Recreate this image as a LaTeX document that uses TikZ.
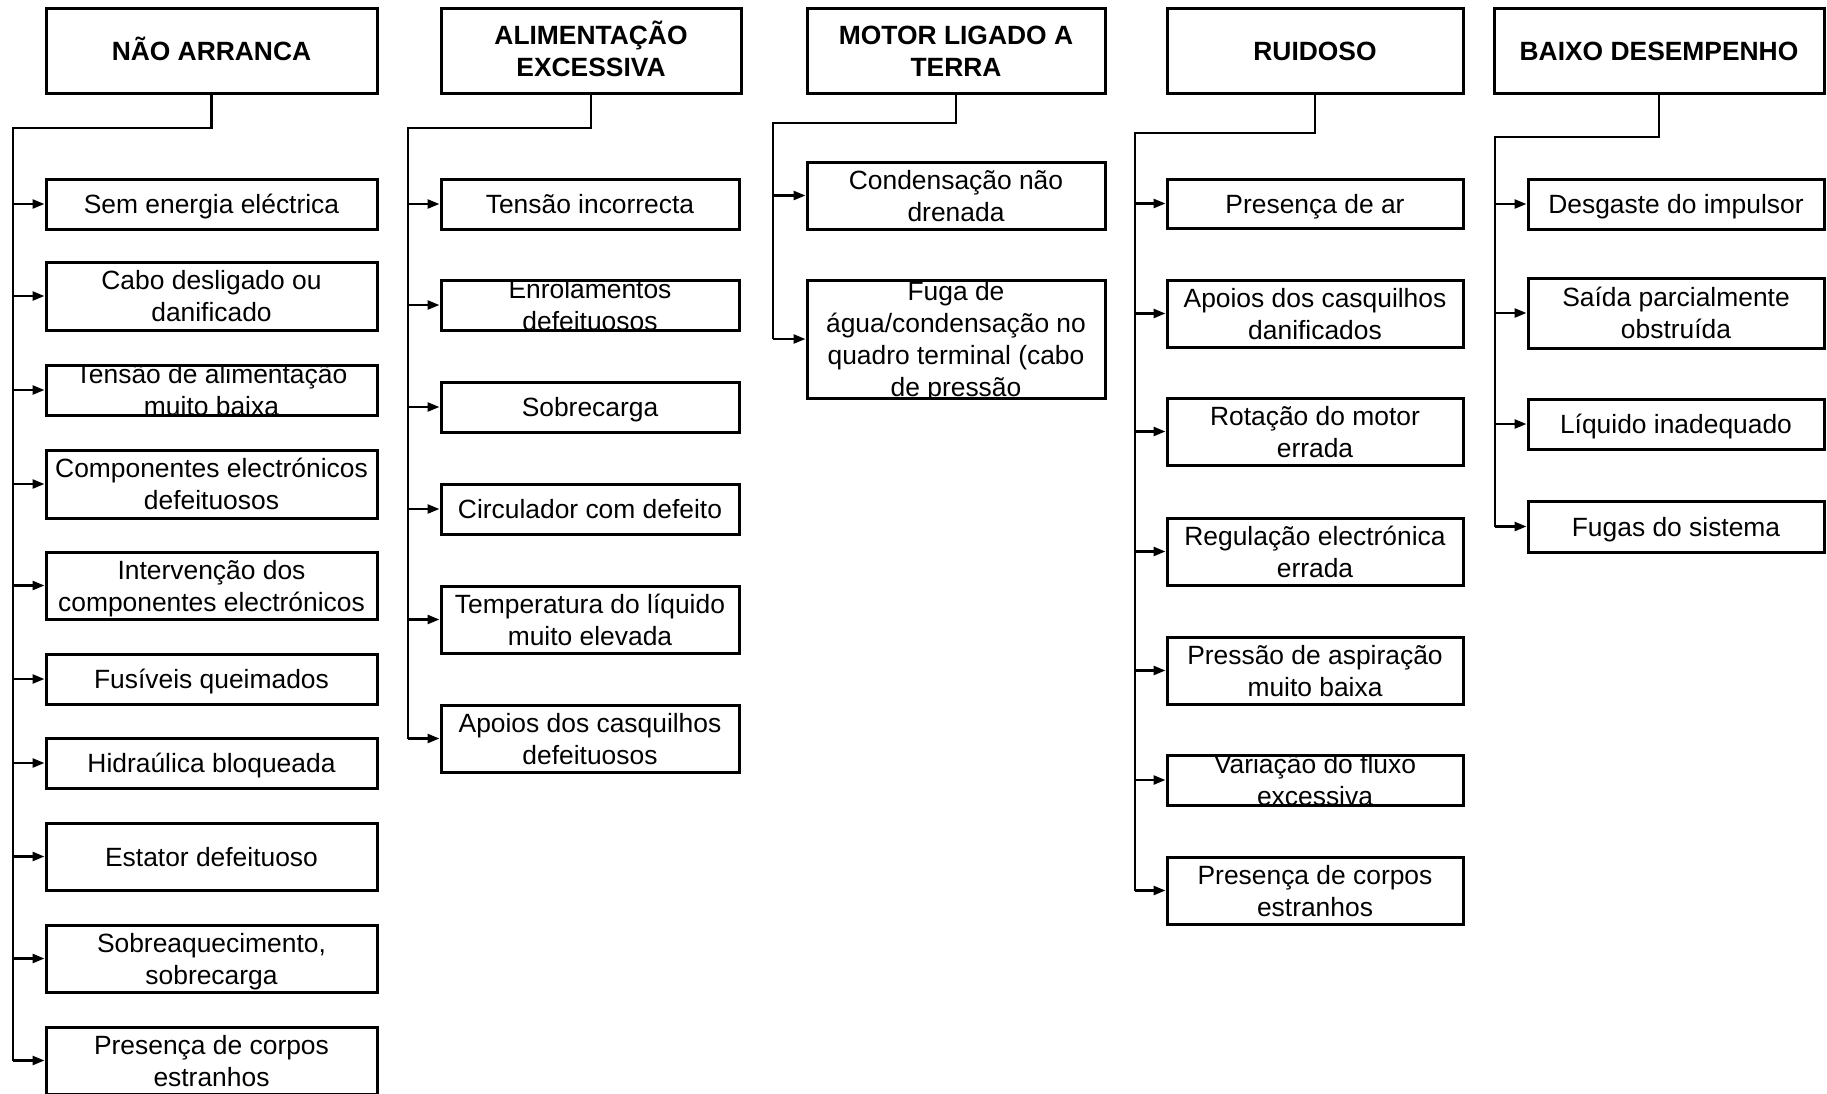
\documentclass[tikz,border=0pt]{standalone}
\usepackage{fontspec}
\setmainfont{Liberation Sans}
\usetikzlibrary{arrows.meta}
\newcommand\fs{\fontsize{26.4}{32}\selectfont}
\newcommand\tstr{\rule{0pt}{25pt}}
\newcommand\bstr{\rule[-6pt]{0pt}{6pt}}
\tikzset{
  box/.style={draw, line width=3pt, inner sep=0pt, align=center, font=\fs},
  headbox/.style={box, font=\fs\bfseries},
  clipbox/.style={path picture={\node[draw=none, align=center, inner sep=0pt, font=\fs] at (path picture bounding box.center) {\tstr#1\bstr};}},
  conn/.style={line width=2.5pt, line join=miter},
  arr/.style={line width=2.5pt, -{Triangle[length=12pt,width=9pt]}}
}
\newcommand\bx[7][]{\node[box,#1,minimum width={#5pt-#3pt},minimum height={#6pt-#4pt}] (#2) at ({(#3+#5)/2},{(#4+#6)/2}) {\tstr#7\bstr};}
\begin{document}
\begin{tikzpicture}[x=1pt,y=-1pt]
\useasboundingbox (0,0) rectangle (1827,1093);
% headers
\bx[headbox]{h1}{46}{8}{377}{93}{NÃO ARRANCA}
\bx[headbox]{h2}{441}{8}{741}{93}{ALIMENTAÇÃO\\EXCESSIVA}
\bx[headbox]{h3}{807}{8}{1105}{93}{MOTOR LIGADO A\\TERRA}
\bx[headbox]{h4}{1167}{8}{1463}{93}{RUIDOSO}
\bx[headbox]{h5}{1494}{8}{1824}{93}{BAIXO DESEMPENHO}
% column 1
\bx{a1}{46}{179}{377}{229}{Sem energia eléctrica}
\bx{a2}{46}{262}{377}{330}{Cabo desligado ou\\danificado}
\bx[clipbox={Tensão de alimentação\\muito baixa}]{a3}{46}{365}{377}{415}{}
\bx{a4}{46}{450}{377}{518}{Componentes electrónicos\\defeituosos}
\bx{a5}{46}{552}{377}{619}{Intervenção dos\\componentes electrónicos}
\bx{a6}{46}{654}{377}{704}{Fusíveis queimados}
\bx{a7}{46}{738}{377}{788}{Hidraúlica bloqueada}
\bx{a8}{46}{823}{377}{890}{Estator defeituoso}
\bx{a9}{46}{925}{377}{992}{Sobreaquecimento,\\sobrecarga}
\bx{a10}{46}{1027}{377}{1094}{Presença de corpos\\estranhos}
% column 2
\bx{b1}{441}{179}{739}{229}{Tensão incorrecta}
\bx[clipbox={Enrolamentos\\defeituosos}]{b2}{441}{280}{739}{330}{}
\bx{b3}{441}{382}{739}{432}{Sobrecarga}
\bx{b4}{441}{484}{739}{534}{Circulador com defeito}
\bx{b5}{441}{586}{739}{653}{Temperatura do líquido\\muito elevada}
\bx{b6}{441}{705}{739}{772}{Apoios dos casquilhos\\defeituosos}
% column 3
\bx{c1}{807}{162}{1105}{229}{Condensação não\\drenada}
\bx[clipbox={Fuga de\\água/condensação no\\quadro terminal (cabo\\de pressão}]{c2}{807}{280}{1105}{398}{}
% column 4
\bx{d1}{1167}{179}{1463}{228}{Presença de ar}
\bx{d2}{1167}{280}{1463}{347}{Apoios dos casquilhos\\danificados}
\bx{d3}{1167}{398}{1463}{465}{Rotação do motor\\errada}
\bx{d4}{1167}{518}{1463}{585}{Regulação electrónica\\errada}
\bx{d5}{1167}{637}{1463}{704}{Pressão de aspiração\\muito baixa}
\bx[clipbox={Variação do fluxo\\excessiva}]{d6}{1167}{755}{1463}{805}{}
\bx{d7}{1167}{857}{1463}{924}{Presença de corpos\\estranhos}
% column 5
\bx{e1}{1528}{179}{1824}{229}{Desgaste do impulsor}
\bx{e2}{1528}{278}{1824}{348}{Saída parcialmente\\obstruída}
\bx{e3}{1528}{399}{1824}{449}{Líquido inadequado}
\bx{e4}{1528}{501}{1824}{552}{Fugas do sistema}
% trunks
\coordinate (t1) at (13,128);
\coordinate (t2) at (408,128);
\coordinate (t3) at (773,123);
\coordinate (t4) at (1135,133);
\coordinate (t5) at (1495,137);
\draw[conn] (h1.south) |- (t1) -- (t1 |- a10.west);
\draw[conn] (h2.south) |- (t2) -- (t2 |- b6.west);
\draw[conn] (h3.south) |- (t3) -- (t3 |- c2.west);
\draw[conn] (h4.south) |- (t4) -- (t4 |- d7.west);
\draw[conn] (h5.south) |- (t5) -- (t5 |- e4.west);
\foreach \n in {a1,a2,a3,a4,a5,a6,a7,a8,a9,a10} \draw[arr] (t1 |- \n.west) -- (\n.west);
\foreach \n in {b1,b2,b3,b4,b5,b6} \draw[arr] (t2 |- \n.west) -- (\n.west);
\foreach \n in {c1,c2} \draw[arr] (t3 |- \n.west) -- (\n.west);
\foreach \n in {d1,d2,d3,d4,d5,d6,d7} \draw[arr] (t4 |- \n.west) -- (\n.west);
\foreach \n in {e1,e2,e3,e4} \draw[arr] (t5 |- \n.west) -- (\n.west);
\end{tikzpicture}
\end{document}
